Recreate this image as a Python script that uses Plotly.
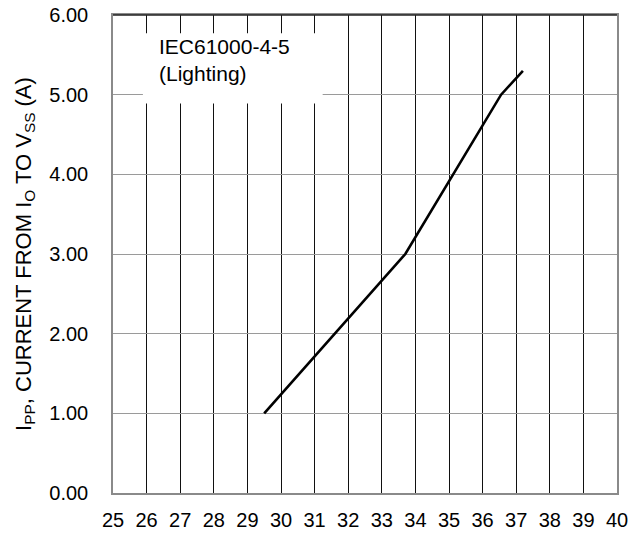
import plotly.graph_objects as go

# Data
voltage = [29.5, 33.7, 36.55, 37.2]
current = [1.0, 3.0, 5.0, 5.3]
x_ticks = list(range(25, 41))
y_ticks = [0, 1, 2, 3, 4, 5, 6]
y_tick_labels = ["0.00", "1.00", "2.00", "3.00", "4.00", "5.00", "6.00"]
note_text = "IEC61000-4-5<br>(Lighting)"
y_title = "I<sub>PP</sub>, CURRENT FROM I<sub>O</sub> TO V<sub>SS</sub> (A)"

FONT = "Liberation Sans, Arial, Helvetica, sans-serif"

fig = go.Figure()
fig.add_trace(go.Scatter(
    x=voltage, y=current, mode="lines",
    line=dict(color="black", width=2.6),
    showlegend=False, hoverinfo="skip",
))

fig.update_layout(
    width=644, height=533,
    margin=dict(l=113, r=27, t=15, b=40),
    paper_bgcolor="white", plot_bgcolor="white",
    font=dict(family=FONT, color="black", size=20),
)

fig.update_xaxes(
    range=[25, 40], tickmode="array", tickvals=x_ticks,
    ticktext=[str(v) for v in x_ticks], automargin=False,
    showgrid=True, gridcolor="#111111", gridwidth=1,
    showline=True, linecolor="#8a8a8a", linewidth=1.5, mirror=True,
    zeroline=False, ticks="", ticklabelstandoff=8,
    tickfont=dict(size=20, family=FONT, color="black"),
)
fig.update_yaxes(
    range=[0, 6], tickmode="array", tickvals=y_ticks, ticktext=y_tick_labels,
    automargin=False,
    showgrid=True, gridcolor="#9a9a9a", gridwidth=1.3,
    showline=True, linecolor="#8a8a8a", linewidth=1.5, mirror=True,
    zeroline=False, ticks="", ticklabelstandoff=19,
    tickfont=dict(size=20, family=FONT, color="black"),
    title=dict(text=y_title, font=dict(size=22, family=FONT, color="black"), standoff=12),
)

# top border is dark in the reference
fig.add_shape(type="line", xref="paper", yref="paper", x0=0, x1=1, y0=1, y1=1,
              line=dict(color="#222222", width=1.5), layer="above")

# white box behind the note
fig.add_shape(type="rect", xref="x", yref="y", x0=25.89, x1=31.24, y0=4.89, y1=5.77,
              fillcolor="white", line=dict(width=0), layer="above")

fig.add_annotation(
    x=26.32, y=5.78, xref="x", yref="y", xanchor="left", yanchor="top",
    text=note_text, showarrow=False, align="left",
    font=dict(size=21, family=FONT, color="black"),
)

fig.write_html("out.html")
